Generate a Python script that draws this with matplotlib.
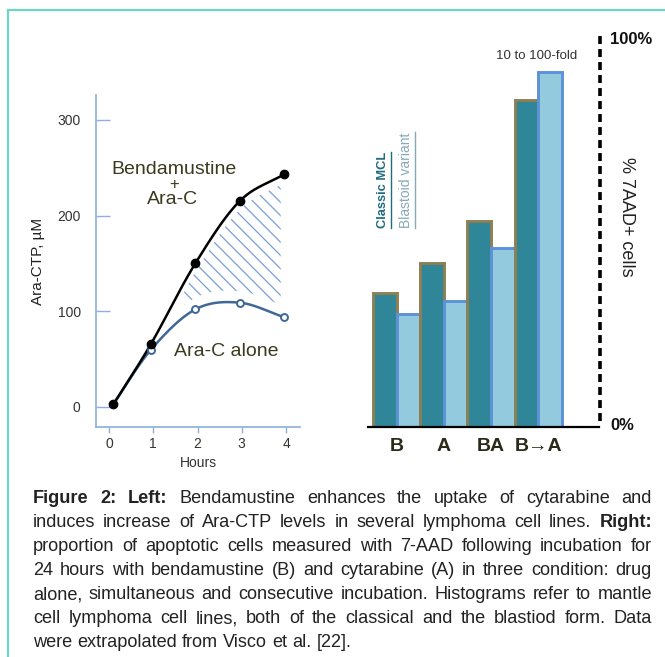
import numpy as np
import matplotlib
matplotlib.use("Agg")
import matplotlib.pyplot as plt
from matplotlib.lines import Line2D

plt.rcParams['font.family'] = ['Liberation Sans', 'DejaVu Sans']

# left panel: Ara-CTP uptake
hours = [0.1, 0.95, 1.95, 2.95, 3.95]
benda_arac = [3, 66, 150, 215, 243]
arac_alone = [3, 60, 102, 109, 94]
hour_ticks = [0, 1, 2, 3, 4]
ctp_ticks = [0, 100, 200, 300]

# right panel: % 7AAD+ cells
conditions = ["B", "A", "BA", "B→A"]
classic_mcl = [34.7, 42.5, 53.2, 84.5]
blastoid = [29.2, 32.6, 46.3, 91.7]

caption = [
    [("Figure 2: Left:", True), ("Bendamustine enhances the uptake of cytarabine and", False)],
    [("induces increase of Ara-CTP levels in several lymphoma cell lines.", False), ("Right:", True)],
    [("proportion of apoptotic cells measured with 7-AAD following incubation for", False)],
    [("24 hours with bendamustine (B) and cytarabine (A) in three condition: drug", False)],
    [("alone, simultaneous and consecutive incubation. Histograms refer to mantle", False)],
    [("cell lymphoma cell lines, both of the classical and the blastiod form. Data", False)],
    [("were extrapolated from Visco et al. [22].", False)],
]

W, H = 665, 657
fig = plt.figure(figsize=(W / 100, H / 100), dpi=100)


def fx(x):
    return x / W


def fy(y):
    return 1 - y / H


def smooth(xs, ys, n=40):
    # catmull-rom through the points, only for drawing the curve
    pts = np.column_stack([xs, ys]).astype(float)
    ext = np.vstack([2 * pts[0] - pts[1], pts, 2 * pts[-1] - pts[-2]])
    t = np.linspace(0, 1, n)[:, None]
    segs = []
    for i in range(1, len(ext) - 2):
        p0, p1, p2, p3 = ext[i - 1:i + 3]
        segs.append(0.5 * (2 * p1 + (-p0 + p2) * t + (2 * p0 - 5 * p1 + 4 * p2 - p3) * t ** 2
                           + (-p0 + 3 * p1 - 3 * p2 + p3) * t ** 3))
    return np.vstack(segs)


# frame
fig.add_artist(Line2D([fx(8), fx(8)], [0, fy(10)], color='#6fd6c6', lw=1.6))
fig.add_artist(Line2D([fx(8), 1], [fy(10), fy(10)], color='#6fd6c6', lw=1.6))

# ---- left chart
axc = '#8eaedb'
ax1 = fig.add_axes([fx(96), fy(427), 204 / W, 332 / H])
ax1.set_xlim(-0.294, 4.316)
ax1.set_ylim(-20.9, 326)
for s in ['top', 'right']:
    ax1.spines[s].set_visible(False)
for s in ['left', 'bottom']:
    ax1.spines[s].set_color(axc)
    ax1.spines[s].set_linewidth(1.2)
ax1.set_xticks(hour_ticks)
ax1.set_yticks(ctp_ticks)
ax1.tick_params(axis='y', direction='in', length=10, width=1, color=axc,
                labelsize=10, labelcolor='#333333', pad=11)
ax1.tick_params(axis='x', direction='out', length=4, width=1, color=axc,
                labelsize=10, labelcolor='#333333', pad=3)
ax1.set_xlabel("Hours", fontsize=10, color='#333333', labelpad=4)
ax1.set_ylabel("Ara-CTP, µM", fontsize=11, color='#222222', labelpad=9)

cb = smooth(hours, benda_arac)
ca = smooth(hours, arac_alone)
xs = np.linspace(1.7, 3.88, 200)
top = np.interp(xs, cb[:, 0], cb[:, 1]) - 9
bot = np.interp(xs, ca[:, 0], ca[:, 1]) + 12
region = ax1.fill_between(xs, bot, top, where=top > bot, facecolor='none',
                          linewidth=0, zorder=1)
# diagonal hatch lines, clipped to the region between the curves
slope = -44.25 / 0.9567
for c in np.arange(3.4, 9.6, 0.3):
    hx = np.array([c - 7, c])
    ln, = ax1.plot(hx, slope * (hx - c), color='#7fa3d6', lw=0.95, zorder=1)
    ln.set_clip_path(region.get_paths()[0], region.get_transform())
ax1.plot(ca[:, 0], ca[:, 1], color='#3f6895', lw=1.8, zorder=2)
ax1.plot(cb[:, 0], cb[:, 1], color='black', lw=1.8, zorder=3)
ax1.plot(hours[1:], arac_alone[1:], 'o', ms=5, mfc='white', mec='#3f6895', mew=1.4, zorder=4)
ax1.plot(hours, benda_arac, 'o', ms=6, color='black', zorder=5)

tc = '#3b3a1f'
fig.text(fx(174), fy(170), "Bendamustine", fontsize=14, color=tc, ha='center', va='center')
fig.text(fx(174), fy(185), "+", fontsize=12, color=tc, ha='center', va='center')
fig.text(fx(173), fy(200), "Ara-C", fontsize=14, color=tc, ha='center', va='center')
fig.text(fx(226), fy(352), "Ara-C alone", fontsize=14, color=tc, ha='center', va='center')

# ---- right chart
ax2 = fig.add_axes([fx(368), fy(427), 232 / W, 394 / H])
x0, x1 = -0.212, 9.618
ax2.set_xlim(x0, x1)
ax2.set_ylim(0, 101.8)
ax2.axis('off')
z = 2
for i in range(len(conditions)):
    ax2.bar(2 * i, classic_mcl[i], width=1, align='edge', color='#2f8699',
            edgecolor='#8c7f52', linewidth=2.1, zorder=z)
    ax2.bar(2 * i + 1, blastoid[i], width=1, align='edge', color='#93cade',
            edgecolor='#5b92d8', linewidth=2.1, zorder=z + 1)
    z += 2
    ax2.text(2 * i + 1, -0.05, conditions[i], transform=ax2.get_xaxis_transform(),
             ha='center', va='center', fontsize=14, fontweight='bold', color='#2b2a18')
ax2.plot([x0, x1 - 0.05], [0, 0], color='black', lw=1.6, zorder=20, clip_on=False)
ax2.plot([x1, x1], [1.5, 101.8], color='black', lw=2.6, linestyle=(0, (2.2, 1.4)),
         clip_on=False)

fig.text(fx(610), fy(39), "100%", fontsize=12, fontweight='bold', color='#111111',
         ha='left', va='center')
fig.text(fx(610), fy(426), "0%", fontsize=12, fontweight='bold', color='#111111',
         ha='left', va='center')
fig.text(fx(627), fy(217), "% 7AAD+ cells", fontsize=13, color='#222222', rotation=270,
         ha='center', va='center')
fig.text(fx(537), fy(56), "10 to 100-fold", fontsize=9.5, color='#333333',
         ha='center', va='center')
fig.text(fx(383), fy(190), "Classic MCL", fontsize=9.3, fontweight='bold', color='#1f6c7e',
         rotation=90, ha='center', va='center')
fig.add_artist(Line2D([fx(391), fx(391)], [fy(228), fy(152)], color='#1f6c7e', lw=1))
fig.text(fx(406), fy(180), "Blastoid variant", fontsize=10, color='#86a9b8',
         rotation=90, ha='center', va='center')
fig.add_artist(Line2D([fx(415), fx(415)], [fy(228), fy(132)], color='#86a9b8', lw=1))

# ---- caption, justified
renderer = fig.canvas.get_renderer()
left, right = 33, 652
fs = 13.1
for li, parts in enumerate(caption):
    words = []
    for txt, bold in parts:
        for w in txt.split():
            words.append((w, bold))
    arts = []
    for w, bold in words:
        t = fig.text(0, fy(503 + 24 * li), w, fontsize=fs, color='#222222',
                     fontweight='bold' if bold else 'normal', va='baseline', ha='left')
        arts.append(t)
    widths = [a.get_window_extent(renderer).width for a in arts]
    if li == len(caption) - 1:
        gap = 0.278 * fs * 100 / 72
    else:
        gap = (right - left - sum(widths)) / (len(words) - 1)
    x = left
    for a, wd in zip(arts, widths):
        a.set_x(fx(x))
        x += wd + gap

fig.savefig("out.png", dpi=100)
